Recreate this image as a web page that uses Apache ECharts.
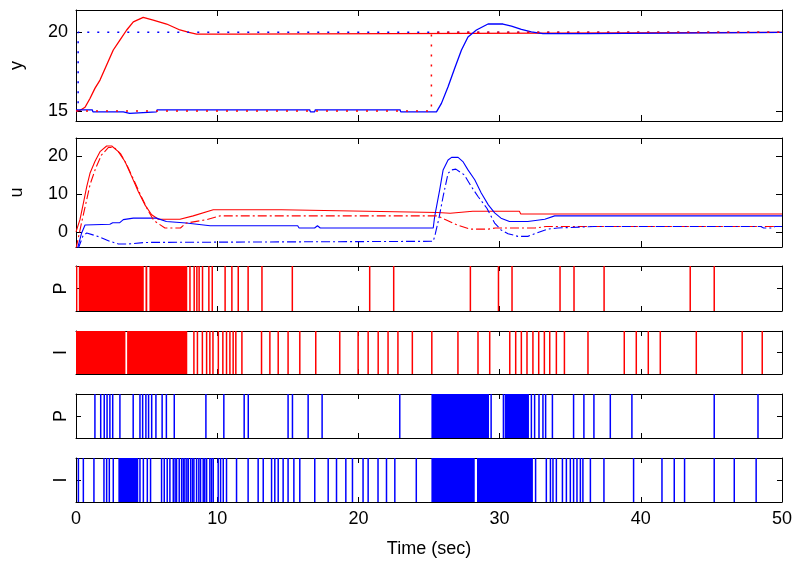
<!DOCTYPE html>
<html><head><meta charset="utf-8">
<script src="https://cdn.jsdelivr.net/npm/echarts@6/dist/echarts.min.js"></script>
<style>html,body{margin:0;padding:0;background:#fff}#c{width:795px;height:570px}</style>
</head><body><div id="c"></div>
<script>
// ---- tick labels ----
const timeTicks = [0, 10, 20, 30, 40, 50];
const yTicks = [15, 20];
const uTicks = [0, 10, 20];
const eventTick = [0.5];

// ---- panel 1: outputs y and setpoints ----
const yRed = [[0,15],[0.3,15.05],[0.64,15.24],[0.99,15.8],[1.34,16.44],[1.7,16.97],[2.17,17.92],[2.64,18.88],[3.11,19.51],[3.59,20.15],[4.06,20.67],[4.76,20.95],[5.47,20.78],[6.42,20.53],[7.36,20.15],[8.0,20.0],[8.54,19.89],[11.37,19.89],[11.45,20],[50,20]];
const yBlue = [[0,15.08],[1.15,15.08],[1.2,14.95],[3.35,14.95],[3.4,14.85],[3.8,14.85],[3.85,14.95],[5.7,14.95],[5.75,15.08],[16.55,15.08],[16.6,14.95],[16.9,14.95],[16.95,15.08],[22.95,15.08],[23.0,14.95],[25.53,14.95],[25.88,15.49],[26.35,16.55],[26.82,17.72],[27.3,18.88],[27.76,19.7],[28.36,20.15],[29.18,20.53],[30.24,20.53],[30.84,20.4],[31.54,20.19],[32.25,20.03],[33.07,19.92],[36.14,19.92],[36.2,20],[50,20]];
const rBlue = [[0,15],[0.15,15],[0.15,20],[50,20]];
const rRed = [[0,15],[25.17,15],[25.17,20],[50,20]];

// ---- panel 2: control signals u ----
const uRed = [[0,0],[0.28,3.2],[0.52,7.5],[0.76,11.9],[0.99,15.4],[1.34,18.5],[1.7,21.1],[2.17,22.6],[2.53,22.6],[3.0,21.1],[3.47,18.5],[3.94,14.6],[4.41,10.6],[4.88,7.1],[5.36,4.5],[5.83,3.3],[7.36,3.3],[8.3,4.2],[9.72,5.8],[14.56,5.8],[14.67,5.3],[25.6,5.1],[26.5,4.9],[28.1,5.4],[31.4,5.4],[31.5,4.7],[50,4.7]];
const uRed2 = [[0,-4.5],[0.2,-1],[0.4,2.5],[0.7,7.5],[1.0,12.5],[1.4,16.8],[1.8,20.2],[2.3,22.2],[2.7,22.2],[3.15,20.6],[3.6,17.6],[4.1,13.6],[4.6,9.5],[5.05,6.0],[5.5,3.0],[6.3,1.0],[7.4,1.0],[7.8,2.3],[9.25,3.2],[10.2,4.2],[25.6,4.2],[26.3,3.0],[27.0,1.8],[27.9,0.7],[29.2,0.7],[29.7,1.0],[32.5,1.0],[33.3,1.4],[50,1.4]];
const uBlue = [[0.1,-4.5],[0.4,-0.3],[0.64,1.8],[0.76,2.0],[2.4,2.0],[2.6,2.4],[3.1,2.4],[3.35,3.2],[4.06,3.6],[5.7,3.6],[6.4,2.7],[7.8,2.3],[9.5,1.6],[15.7,1.6],[15.8,1.0],[16.9,1.0],[17.1,1.6],[17.3,1.0],[25.3,1.0],[25.4,4.0],[25.76,11.1],[26.0,16.3],[26.35,18.9],[26.6,19.6],[27.06,19.6],[27.4,18.5],[27.76,16.3],[28.24,13.7],[28.7,10.2],[29.2,7.1],[29.65,5.0],[30.1,3.6],[30.7,2.7],[32.0,2.7],[33.2,3.3],[33.9,4.2],[50,4.2]];
const uBlue2 = [[0.15,-4.5],[0.5,-1],[0.76,-0.3],[1.7,-1.4],[2.4,-2.5],[3.0,-3.2],[3.7,-3.2],[4.9,-2.8],[25.3,-2.5],[25.45,-0.5],[25.7,3.5],[26.0,9.3],[26.35,15.4],[26.6,16.3],[26.9,16.5],[27.5,15.0],[28.0,11.9],[28.47,9.3],[29.1,6.2],[29.65,2.3],[30.1,0.5],[30.6,-0.5],[31.3,-1.2],[32.0,-1.2],[32.6,-0.35],[33.4,0.7],[34.1,1.0],[36.7,1.4],[48.5,1.4],[48.7,1.0],[49.3,1.0],[49.5,1.4],[50,1.4]];

// ---- event panels (times of events, and dense runs as [start,end]) ----
const redPEvents = [8.07,8.37,8.56,8.72,8.96,9.41,9.65,10.56,11.04,11.49,12.19,13.17,15.32,20.8,22.5,27.93,29.92,30.88,34.28,35.27,37.4,43.5,45.2];
const redPBlocks = [[0,0.1],[0.2,4.8],[4.92,5.05],[5.2,7.88]];
const redIEvents = [8.35,8.6,8.95,9.25,9.48,9.7,10.08,10.4,10.66,10.9,11.13,11.32,11.75,13.14,13.73,14.32,15.02,15.85,16.98,18.68,19.98,20.69,21.4,22.1,22.8,23.82,25.2,27.05,28.47,29.3,30.72,31.14,31.54,31.94,32.36,32.77,33.17,33.55,34.02,34.59,36.26,38.83,39.68,40.53,41.38,43.93,47.18,48.6];
const redIBlocks = [[0,3.5],[3.62,7.88]];
const bluePEvents = [1.34,1.75,2.0,2.2,2.4,2.6,3.11,4.05,4.53,4.72,4.95,5.14,5.36,5.66,6.1,6.4,6.96,9.2,10.47,11.91,12.2,15.02,15.33,16.44,17.43,22.93,29.4,30.27,32.25,32.48,32.79,33.07,33.26,33.74,35.24,35.97,36.68,37.84,39.37,45.2,48.3];
const bluePBlocks = [[25.17,29.25],[30.36,32.08]];
const blueIEvents = [0.17,0.52,1.27,1.98,2.17,2.36,2.64,4.53,4.77,5.05,5.28,6.06,6.25,6.46,6.65,6.89,7.02,7.12,7.31,7.48,7.6,7.71,7.85,7.95,8.12,8.25,8.35,8.54,8.7,8.82,9.01,9.12,9.25,9.48,9.6,9.72,10.07,10.24,10.43,10.66,11.37,12.19,12.9,13.26,13.85,14.08,14.32,14.67,15.02,15.43,15.85,16.91,17.86,18.45,19.11,19.58,20.33,20.69,21.39,21.99,22.58,24.1,32.55,33.31,33.6,33.78,34.02,34.45,34.73,35.01,35.24,35.48,35.72,35.9,36.43,37.39,39.49,41.5,42.37,43.1,45.2,46.62,48.17];
const blueIBlocks = [[3.0,4.41],[25.17,28.24],[28.4,32.36]];

const RED = '#ff0000', BLUE = '#0000ff', FONT = 'Liberation Sans', FS = 18;

const layout = [[10,111],[138,109],[266,45],[331,43],[394,44],[458,44]];
const grid = layout.map(([top,h]) => ({left:76, width:706, top, height:h}));

const xAxis = [], yAxis = [];
const tickLen = [6,6,5,5,5,5];
layout.forEach((_, i) => {
  const last = i === layout.length - 1;
  ['bottom','top'].forEach(pos => {
    xAxis.push({
      type:'value', gridIndex:i, position:pos, min:0, max:50, interval:10,
      axisLine:{show:true, onZero:false, lineStyle:{color:'#000', width:1}},
      axisTick:{show:true, inside:true, length:tickLen[i], lineStyle:{color:'#000'}},
      axisLabel:{show: last && pos==='bottom', color:'#000', fontSize:FS, fontFamily:FONT, margin:8,
        customValues: timeTicks},
      splitLine:{show:false},
      name: (last && pos==='bottom') ? 'Time (sec)' : '',
      nameLocation:'middle', nameGap:38,
      nameTextStyle:{color:'#000', fontSize:FS, fontFamily:FONT}
    });
  });
  const cfg = [
    {min:14.37, max:21.42, ticks:yTicks, labels:true, name:'y', gap:50},
    {min:-4, max:24.7, ticks:uTicks, labels:true, name:'u', gap:50},
    {min:0, max:1, ticks:eventTick, labels:false, name:'P', gap:6},
    {min:0, max:1, ticks:eventTick, labels:false, name:'I', gap:6},
    {min:0, max:1, ticks:eventTick, labels:false, name:'P', gap:6},
    {min:0, max:1, ticks:eventTick, labels:false, name:'I', gap:6}
  ][i];
  ['left','right'].forEach(pos => {
    yAxis.push({
      type:'value', gridIndex:i, position:pos, min:cfg.min, max:cfg.max,
      axisLine:{show:true, onZero:false, lineStyle:{color:'#000', width:1}},
      axisTick:{show:true, inside:true, length:tickLen[i], lineStyle:{color:'#000'}, customValues:cfg.ticks},
      axisLabel:{show: cfg.labels && pos==='left', color:'#000', fontSize:FS, fontFamily:FONT, margin:8,
        customValues:cfg.ticks},
      splitLine:{show:false},
      name: pos==='left' ? cfg.name : '',
      nameLocation:'middle', nameRotate:90, nameGap:cfg.gap,
      nameTextStyle:{color:'#000', fontSize:FS, fontFamily:FONT}
    });
  });
});

function ln(data, color, type, gi, w) {
  return {type:'line', xAxisIndex:2*gi, yAxisIndex:2*gi, data, showSymbol:false, symbol:'none',
    lineStyle:{color, width:w, type}, animation:false, silent:true, clip:true};
}
function events(times, color, gi) {
  return {type:'custom', xAxisIndex:2*gi, yAxisIndex:2*gi, data: times.map(t => [t, 0]),
    encode:{x:0, y:1}, animation:false, silent:true,
    renderItem:(p, api) => {
      const a = api.coord([api.value(0), 0]), b = api.coord([api.value(0), 1]);
      return {type:'line', shape:{x1:a[0], y1:a[1], x2:b[0], y2:b[1]}, style:{stroke:color, lineWidth:1.5}};
    }};
}
function blocks(runs, color, gi) {
  return {type:'custom', xAxisIndex:2*gi, yAxisIndex:2*gi, data: runs.map(r => [r[0], r[1]]),
    encode:{x:[0,1]}, animation:false, silent:true,
    renderItem:(p, api) => {
      const a = api.coord([api.value(0), 0]), b = api.coord([api.value(1), 1]);
      return {type:'rect', shape:{x:a[0], y:b[1], width:Math.max(b[0]-a[0],1), height:a[1]-b[1]}, style:{fill:color}};
    }};
}

const dashDot = [9,3,2,3];
const series = [
  ln(yRed, RED, 'solid', 0, 1.3),
  ln(yBlue, BLUE, 'solid', 0, 1.3),
  ln(rBlue, BLUE, [2,8], 0, 1.5),
  ln(rRed, RED, [2,8], 0, 1.5),
  ln(uRed, RED, 'solid', 1, 1.1),
  ln(uBlue, BLUE, 'solid', 1, 1.1),
  ln(uRed2, RED, dashDot, 1, 1.1),
  ln(uBlue2, BLUE, dashDot, 1, 1.1),
  blocks(redPBlocks, RED, 2), events(redPEvents, RED, 2),
  blocks(redIBlocks, RED, 3), events(redIEvents, RED, 3),
  blocks(bluePBlocks, BLUE, 4), events(bluePEvents, BLUE, 4),
  blocks(blueIBlocks, BLUE, 5), events(blueIEvents, BLUE, 5)
];

const chart = echarts.init(document.getElementById('c'), null, {renderer:'canvas'});
chart.setOption({animation:false, backgroundColor:'#fff', grid, xAxis, yAxis, series});
</script>
</body></html>
